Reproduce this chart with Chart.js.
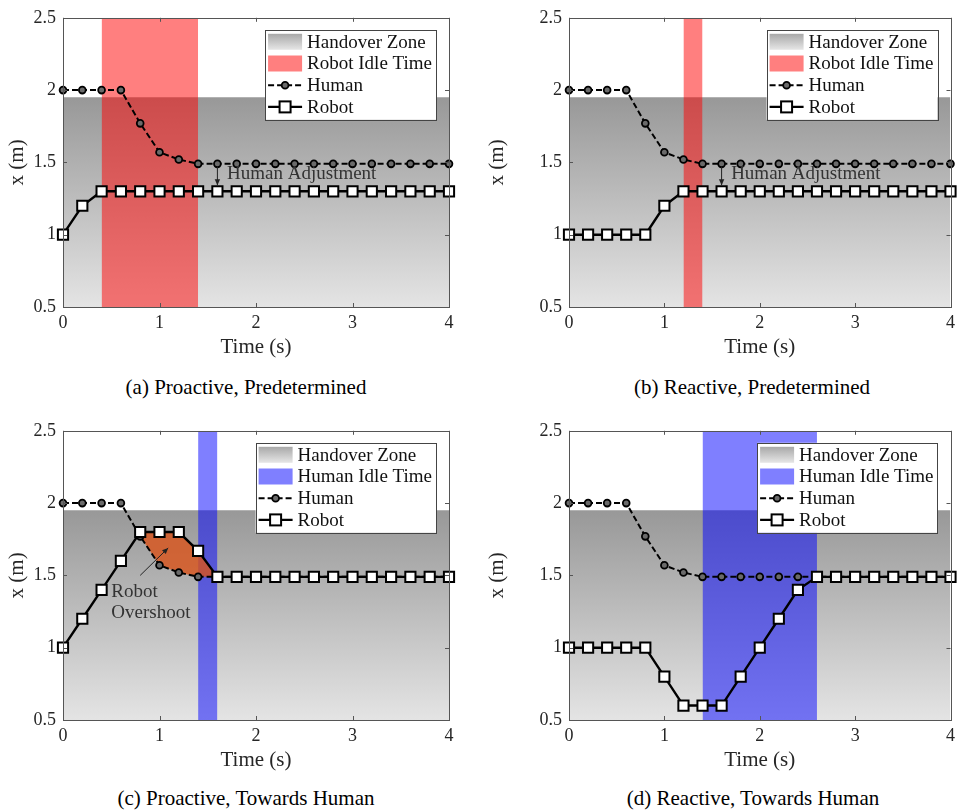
<!DOCTYPE html>
<html><head><meta charset="utf-8">
<script src="https://cdn.jsdelivr.net/npm/chart.js@4.4.1/dist/chart.umd.min.js"></script>
<style>
html,body{margin:0;padding:0;background:#fff;}
#page{position:relative;width:960px;height:810px;overflow:hidden;background:#fff;}
canvas{position:absolute;}
.cap{position:absolute;width:480px;text-align:center;font-family:"Liberation Serif",serif;font-size:21px;color:#000;line-height:24px;white-space:nowrap;}
</style></head><body>
<div id="page">
<canvas id="cA" width="480" height="360" style="left:0px;top:0px"></canvas>
<canvas id="cB" width="480" height="360" style="left:480px;top:0px"></canvas>
<canvas id="cC" width="480" height="360" style="left:0px;top:413px"></canvas>
<canvas id="cD" width="480" height="360" style="left:480px;top:413px"></canvas>
<div class="cap" style="left:6px;top:375px">(a) Proactive, Predetermined</div>
<div class="cap" style="left:512px;top:375px">(b) Reactive, Predetermined</div>
<div class="cap" style="left:6px;top:786px">(c) Proactive, Towards Human</div>
<div class="cap" style="left:513px;top:786px">(d) Reactive, Towards Human</div>
</div>
<script>
// ---- data ----
const timeS = [0,0.2,0.4,0.6,0.8,1,1.2,1.4,1.6,1.8,2,2.2,2.4,2.6,2.8,3,3.2,3.4,3.6,3.8,4];
const humanX = [2,2,2,2,1.77,1.57,1.52,1.49,1.49,1.49,1.49,1.49,1.49,1.49,1.49,1.49,1.49,1.49,1.49,1.49,1.49];
const robotA = [1,1.2,1.3,1.3,1.3,1.3,1.3,1.3,1.3,1.3,1.3,1.3,1.3,1.3,1.3,1.3,1.3,1.3,1.3,1.3,1.3];
const robotB = [1,1,1,1,1,1.2,1.3,1.3,1.3,1.3,1.3,1.3,1.3,1.3,1.3,1.3,1.3,1.3,1.3,1.3,1.3];
const robotC = [1,1.2,1.4,1.6,1.8,1.8,1.8,1.67,1.49,1.49,1.49,1.49,1.49,1.49,1.49,1.49,1.49,1.49,1.49,1.49,1.49];
const robotD = [1,1,1,1,1,0.8,0.6,0.6,0.6,0.8,1,1.2,1.4,1.49,1.49,1.49,1.49,1.49,1.49,1.49,1.49];
const handoverZone = [0.5, 1.95];          // x (m) range of handover zone
const idleA = [0.4, 1.4];
const idleB = [1.2, 1.4];
const idleC = [1.4, 1.6];
const idleD = [1.4, 2.6];
const overshootTimes = [0.8, 1.6];         // time range of robot overshoot in (c)
const xTicks = [0,1,2,3,4];
const xTickLabels = ['0','1','2','3','4'];
const yTicks = [0.5,1,1.5,2,2.5];
const yTickLabels = ['0.5','1','1.5','2','2.5'];
const seriesLabels = ['Handover Zone','Human','Robot'];

const FONT = '"Liberation Serif", serif';
const AXC = '#262626';

function pts(xs, ys){ return xs.map((x,i)=>({x:x,y:ys[i]})); }

function zoneGradient(ctx){
  const chart = ctx.chart; const ca = chart.chartArea;
  if(!ca) return 'rgba(180,180,180,1)';
  const y = chart.scales.y;
  const g = chart.ctx.createLinearGradient(0, y.getPixelForValue(handoverZone[1]), 0, y.getPixelForValue(handoverZone[0]));
  g.addColorStop(0,'#989898'); g.addColorStop(1,'#e4e4e4');
  return g;
}

function drawArrow(ctx, x1,y1,x2,y2, head){
  const a = Math.atan2(y2-y1, x2-x1);
  ctx.beginPath(); ctx.moveTo(x1,y1); ctx.lineTo(x2,y2); ctx.stroke();
  ctx.beginPath();
  ctx.moveTo(x2,y2);
  ctx.lineTo(x2 - head*Math.cos(a) + head*0.45*Math.sin(a), y2 - head*Math.sin(a) - head*0.45*Math.cos(a));
  ctx.lineTo(x2 - head*Math.cos(a) - head*0.45*Math.sin(a), y2 - head*Math.sin(a) + head*0.45*Math.cos(a));
  ctx.closePath(); ctx.fill();
}

const framePlugin = {
  id:'frame',
  afterDatasetsDraw(chart){
    const ctx = chart.ctx, ca = chart.chartArea, xs = chart.scales.x, ys = chart.scales.y;
    ctx.save();
    ctx.strokeStyle = '#555'; ctx.lineWidth = 1;
    ctx.strokeRect(Math.round(ca.left)+0.5, Math.round(ca.top)+0.5, Math.round(ca.right-ca.left), Math.round(ca.bottom-ca.top));
    ctx.beginPath();
    xTicks.forEach(v=>{ const p = Math.round(xs.getPixelForValue(v))+0.5;
      ctx.moveTo(p, ca.bottom); ctx.lineTo(p, ca.bottom-4);
      ctx.moveTo(p, ca.top); ctx.lineTo(p, ca.top+4); });
    yTicks.forEach(v=>{ const p = Math.round(ys.getPixelForValue(v))+0.5;
      ctx.moveTo(ca.left, p); ctx.lineTo(ca.left+4, p);
      ctx.moveTo(ca.right, p); ctx.lineTo(ca.right-4, p); });
    ctx.stroke();
    ctx.restore();
  }
};

const annotPlugin = {
  id:'annot',
  afterDatasetsDraw(chart, args, opts){
    const ctx = chart.ctx, xs = chart.scales.x, ys = chart.scales.y;
    ctx.save();
    ctx.strokeStyle = '#222'; ctx.fillStyle = '#222'; ctx.lineWidth = 1;
    (opts.arrows||[]).forEach(a=>{
      drawArrow(ctx, xs.getPixelForValue(a[0]), ys.getPixelForValue(a[1]) + (a[4]||0),
                     xs.getPixelForValue(a[2]), ys.getPixelForValue(a[3]) + (a[5]||0), 6);
    });
    ctx.fillStyle = '#333';
    ctx.font = '19px ' + FONT; ctx.textBaseline = 'middle'; ctx.textAlign = 'left';
    (opts.texts||[]).forEach(t=>{
      ctx.fillText(t[2], xs.getPixelForValue(t[0]), ys.getPixelForValue(t[1]));
    });
    ctx.restore();
  }
};

const legendPlugin = {
  id:'boxlegend',
  afterDraw(chart, args, opts){
    const ctx = chart.ctx, ca = chart.chartArea;
    const labels = opts.labels;
    ctx.save();
    ctx.font = '19px ' + FONT;
    const maxW = Math.max(...labels.map(l=>ctx.measureText(l).width));
    const right = ca.right - 13, top = ca.top + 12;
    const textX = right - 4 - maxW;
    const left = textX - 42;
    const rowH = 21.7;
    const h = 90;
    ctx.fillStyle = '#fff';
    ctx.fillRect(left, top, right-left, h);
    ctx.strokeStyle = '#444'; ctx.lineWidth = 1;
    ctx.strokeRect(Math.round(left)+0.5, Math.round(top)+0.5, Math.round(right-left), h);
    const sx0 = left + 3, sx1 = left + 37, smid = (sx0+sx1)/2;
    labels.forEach((lab,i)=>{
      const cy = top + 12 + i*rowH;
      if(i===0){
        const g = ctx.createLinearGradient(0, cy-8, 0, cy+8);
        g.addColorStop(0,'#a8a8a8'); g.addColorStop(1,'#e6e6e6');
        ctx.fillStyle = g; ctx.fillRect(sx0, cy-8, sx1-sx0, 16);
      } else if(i===1){
        ctx.fillStyle = opts.idleColor; ctx.fillRect(sx0, cy-8, sx1-sx0, 16);
      } else if(i===2){
        ctx.strokeStyle = '#000'; ctx.lineWidth = 2; ctx.setLineDash([6,3]);
        ctx.beginPath(); ctx.moveTo(sx0, cy); ctx.lineTo(sx1, cy); ctx.stroke();
        ctx.setLineDash([]);
        ctx.beginPath(); ctx.arc(smid, cy, 3.4, 0, Math.PI*2);
        ctx.fillStyle = '#6a6a6a'; ctx.fill(); ctx.lineWidth = 1.8; ctx.stroke();
      } else {
        ctx.strokeStyle = '#000'; ctx.lineWidth = 2.4;
        ctx.beginPath(); ctx.moveTo(sx0, cy); ctx.lineTo(sx1, cy); ctx.stroke();
        ctx.fillStyle = '#fff'; ctx.fillRect(smid-5.5, cy-5.5, 11, 11);
        ctx.lineWidth = 2; ctx.strokeRect(smid-5.5, cy-5.5, 11, 11);
      }
      ctx.fillStyle = '#111'; ctx.textBaseline = 'middle'; ctx.textAlign = 'left';
      ctx.fillText(lab, textX, cy + 1);
    });
    ctx.restore();
  }
};

function makePanel(id, plotLeft, plotRight, robot, idle, idleLabel, idleColor, annots, overshoot){
  const canvas = document.getElementById(id);
  const W = canvas.width, H = canvas.height;
  const datasets = [];
  datasets.push({label:'Robot', data:pts(timeS, robot), order:0, borderColor:'#000', borderWidth:2.4,
    pointStyle:'rect', pointRadius:7.2, pointHoverRadius:7.2, pointBackgroundColor:'#fff', pointBorderColor:'#000', pointBorderWidth:2,
    fill:false, tension:0, clip:false});
  datasets.push({label:'Human', data:pts(timeS, humanX), order:1, borderColor:'#000', borderWidth:2, borderDash:[6,3],
    pointStyle:'circle', pointRadius:3.4, pointHoverRadius:3.4, pointBackgroundColor:'#6a6a6a', pointBorderColor:'#000', pointBorderWidth:1.8,
    fill:false, tension:0, clip:false});
  if(overshoot){
    const i0 = timeS.indexOf(overshoot[0]), i1 = timeS.indexOf(overshoot[1]);
    const t = timeS.slice(i0, i1+1);
    const upperIdx = datasets.length;
    datasets.push({label:'overshoot', data:pts(t, robot.slice(i0,i1+1)), order:2, borderWidth:0, pointRadius:0,
      borderColor:'rgba(0,0,0,0)', backgroundColor:'rgba(217,83,25,0.8)', fill:{target:upperIdx+1}, tension:0});
    datasets.push({label:'overshootLower', data:pts(t, humanX.slice(i0,i1+1)), order:3, borderWidth:0, pointRadius:0,
      borderColor:'rgba(0,0,0,0)', fill:false, tension:0});
  }
  datasets.push({label:idleLabel, data:[{x:idle[0],y:2.5},{x:idle[1],y:2.5}], order:4, borderWidth:0, pointRadius:0,
    borderColor:'rgba(0,0,0,0)', backgroundColor:idleColor, fill:'start'});
  datasets.push({label:'Handover Zone', data:[{x:0,y:handoverZone[1]},{x:4,y:handoverZone[1]}], order:5, borderWidth:0, pointRadius:0,
    borderColor:'rgba(0,0,0,0)', backgroundColor:zoneGradient, fill:'start'});

  new Chart(canvas, {
    type:'line',
    data:{datasets:datasets},
    options:{
      responsive:false, animation:false, devicePixelRatio:1,
      events:[],
      layout:{padding:{top:14, right:W-plotRight, bottom:0, left:0}},
      plugins:{
        legend:{display:false}, tooltip:{enabled:false},
        filler:{propagate:false},
        annot:annots,
        boxlegend:{labels:[seriesLabels[0], idleLabel, seriesLabels[1], seriesLabels[2]], idleColor:idleColor}
      },
      scales:{
        x:{type:'linear', min:0, max:4,
          afterBuildTicks(s){ s.ticks = xTicks.map(v=>({value:v})); },
          afterFit(s){ s.height = H - 307; },
          grid:{display:false, drawTicks:false}, border:{display:false},
          ticks:{padding:5, color:AXC, font:{family:FONT, size:18}, maxRotation:0, callback:(v,i)=>xTickLabels[i]},
          title:{display:true, text:'Time (s)', color:AXC, font:{family:FONT, size:21}, padding:{top:0,bottom:0}}
        },
        y:{type:'linear', min:0.5, max:2.5,
          afterBuildTicks(s){ s.ticks = yTicks.map(v=>({value:v})); },
          afterFit(s){ s.width = plotLeft; },
          grid:{display:false, drawTicks:false}, border:{display:false},
          ticks:{padding:7, color:AXC, font:{family:FONT, size:18}, callback:(v,i)=>yTickLabels[i]},
          title:{display:true, text:'x (m)', color:AXC, font:{family:FONT, size:21}, padding:{top:5,bottom:0}}
        }
      }
    },
    plugins:[framePlugin, annotPlugin, legendPlugin]
  });
}

const RED = 'rgba(255,0,0,0.5)', BLUE = 'rgba(0,0,255,0.5)';
const adjAnnot = {arrows:[[1.6,1.49,1.6,1.3,3,-6]], texts:[[1.70,1.42,'Human Adjustment']]};
makePanel('cA', 63, 449, robotA, idleA, 'Robot Idle Time', RED, adjAnnot, null);
makePanel('cB', 89, 474, robotB, idleB, 'Robot Idle Time', RED, adjAnnot, null);
makePanel('cC', 63, 449, robotC, idleC, 'Human Idle Time', BLUE,
  {arrows:[[0.80,1.50,1.09,1.69,0,0]], texts:[[0.5,1.387,'Robot'],[0.5,1.237,'Overshoot']]}, overshootTimes);
makePanel('cD', 89, 474, robotD, idleD, 'Human Idle Time', BLUE, {arrows:[], texts:[]}, null);
</script>
</body></html>
